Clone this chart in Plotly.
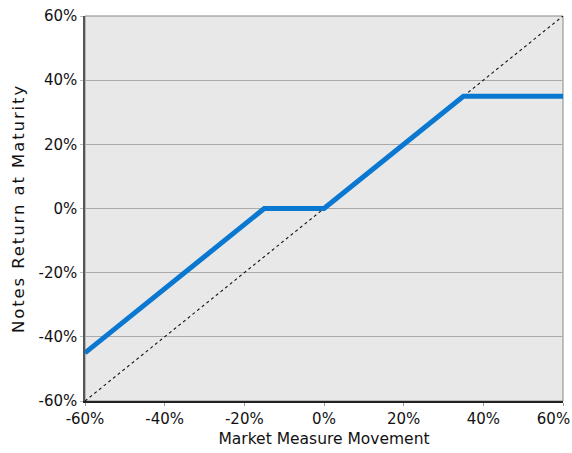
import plotly.graph_objects as go

market_x = [-60, -15, 0, 35, 60]
notes_y = [-45, 0, 0, 35, 35]
diag_x = [-60, 60]
diag_y = [-60, 60]
tick_vals = [-60, -40, -20, 0, 20, 40, 60]
tick_text = ["-60%", "-40%", "-20%", "0%", "20%", "40%", "60%"]

# last x label nudged left so it stays inside the picture, as in the reference
x_tick_text = tick_text[:-1] + [tick_text[-1] + "&nbsp;" * 4]

fig = go.Figure()
fig.add_trace(go.Scatter(x=diag_x, y=diag_y, mode="lines",
                         line=dict(color="#111", width=1.1, dash="dot"),
                         showlegend=False, hoverinfo="skip"))
fig.add_trace(go.Scatter(x=market_x, y=notes_y, mode="lines",
                         line=dict(color="#0a78d0", width=5),
                         showlegend=False))

font = dict(family="DejaVu Sans", size=15, color="#111")
fig.update_layout(
    width=572, height=453,
    margin=dict(l=85, r=9, t=16, b=52),
    paper_bgcolor="white", plot_bgcolor="#e8e8e8",
    font=font,
    xaxis=dict(range=[-60, 60], tickvals=tick_vals, ticktext=x_tick_text,
               automargin=False, ticklabeloverflow="allow",
               showgrid=False, zeroline=False, showline=True, linecolor="#222",
               linewidth=2, mirror=False, ticks="outside", ticklen=3,
               tickcolor="#999",
               title=dict(text="Market Measure Movement", standoff=6, font=dict(size=15.5))),
    yaxis=dict(range=[-60, 60], tickvals=tick_vals, ticktext=tick_text,
               automargin=False, ticklabeloverflow="allow",
               showgrid=True, gridcolor="#aaaaaa", gridwidth=1, zeroline=False,
               showline=True, linecolor="#555", linewidth=1.5,
               ticks="outside", ticklen=3, tickcolor="#bbb",
               title=dict(text='<span style="letter-spacing:1.9px">Notes Return at Maturity</span>',
                          standoff=10, font=dict(size=16.5))),
)
fig.add_shape(type="rect", xref="paper", yref="paper", x0=0, x1=1, y0=0, y1=1,
              line=dict(color="#888", width=1), fillcolor="rgba(0,0,0,0)", layer="below")
fig.write_html("out.html", config={"displayModeBar": False},
               post_script="document.body.style.margin='0';")
